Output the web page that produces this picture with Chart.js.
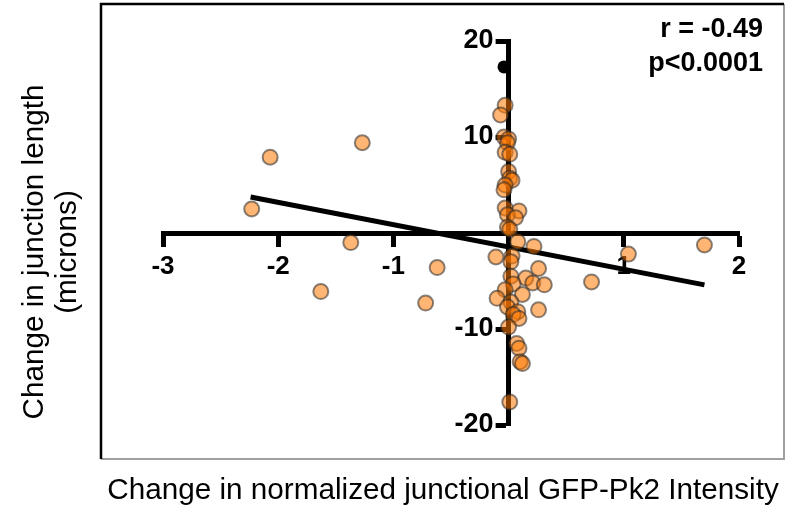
<!DOCTYPE html>
<html>
<head>
<meta charset="utf-8">
<script src="https://cdn.jsdelivr.net/npm/chart.js@4.4.1/dist/chart.umd.min.js"></script>
<style>
  html, body { margin: 0; padding: 0; background: #fff; }
  #wrap { width: 786px; height: 509px; }
</style>
</head>
<body>
<div id="wrap"><canvas id="myChart" width="786" height="509"></canvas></div>
<script>
// scatter values (x = change in GFP-Pk2, y = change in length)
const pointsX = [
  -2.07, -1.27, -2.23, -1.37, -0.62, -1.63, -0.72, 1.04, 1.70, 0.72,
  -0.03, -0.07, -0.04, 0.00, -0.01, -0.03, 0.01, 0.00, 0.01, 0.03,
  -0.03, -0.04, -0.03, 0.09, -0.01, 0.06, -0.01, 0.01, 0.08, 0.22,
  -0.11, 0.03, 0.02, 0.26, 0.02, 0.15, 0.21, 0.31, 0.04, -0.03,
  -0.10, 0.12, 0.02, -0.01, 0.08, 0.26, 0.04, 0.09, 0.00, 0.07,
  0.09, 0.10, 0.12, 0.01
];
const pointsY = [
  7.9, 9.4, 2.5, -1.0, -3.6, -6.1, -7.3, -2.2, -1.25, -5.1,
  13.3, 12.3, 10.0, 9.8, 9.4, 8.4, 8.2, 6.4, 5.7, 5.5,
  5.0, 4.5, 2.6, 2.3, 1.9, 1.6, 0.6, 0.4, -0.9, -1.4,
  -2.5, -2.4, -3.0, -3.7, -4.5, -4.7, -5.2, -5.4, -5.3, -5.9,
  -6.8, -6.4, -7.2, -7.7, -8.2, -8.0, -8.5, -8.9, -9.8, -11.5,
  -12.0, -13.4, -13.6, -17.6
];
// the lone black marker near the top of the y axis
const outlierX = [-0.04];
const outlierY = [17.3];
// linear fit end points
const fitX = [-2.24, 1.70];
const fitY = [3.75, -5.4];

const xTicks = [-3, -2, -1, 1, 2];
const yTicks = [-20, -10, 10, 20];
const statsText = ['r = -0.49', 'p<0.0001'];
const xTitle = 'Change in normalized junctional GFP-Pk2 Intensity';
const yTitle = ['Change in junction length', '(microns)'];

const toXY = (xs, ys) => xs.map((x, i) => ({ x: x, y: ys[i] }));

function fitFontSize(ctx, text, weight, family, width) {
  ctx.font = weight + ' 100px ' + family;
  return 100 * width / ctx.measureText(text).width;
}

// move the y axis so it crosses the x axis at x = 0
const crossAxes = {
  id: 'crossAxes',
  afterLayout(chart) {
    const px = chart.scales.x.getPixelForValue(0);
    chart.scales.y.left = px - 90;
    chart.scales.y.right = px;
  }
};

const frameAndText = {
  id: 'frameAndText',
  beforeDraw(chart) {
    const ctx = chart.ctx;
    ctx.save();
    ctx.fillStyle = '#fff';
    ctx.fillRect(0, 0, chart.width, chart.height);
    ctx.strokeStyle = '#a0a0a0';
    ctx.lineWidth = 2;
    ctx.beginPath();
    ctx.moveTo(101, 459);
    ctx.lineTo(784, 459);
    ctx.lineTo(784, 4);
    ctx.stroke();
    ctx.strokeStyle = '#000';
    ctx.lineWidth = 2.5;
    ctx.beginPath();
    ctx.moveTo(101, 459);
    ctx.lineTo(101, 4);
    ctx.lineTo(784, 4);
    ctx.stroke();
    ctx.restore();
  },
  afterDraw(chart) {
    const ctx = chart.ctx;
    const fam = '"Liberation Sans", Arial, sans-serif';
    ctx.save();
    ctx.fillStyle = '#000';

    // x title
    let size = fitFontSize(ctx, xTitle, 'normal', fam, 672);
    ctx.font = 'normal ' + size + 'px ' + fam;
    ctx.textAlign = 'center';
    ctx.textBaseline = 'alphabetic';
    ctx.fillText(xTitle, 443, 499);

    // y title, two lines rotated
    size = fitFontSize(ctx, yTitle[0], 'normal', fam, 335);
    ctx.font = 'normal ' + size + 'px ' + fam;
    ctx.save();
    ctx.translate(0, 252);
    ctx.rotate(-Math.PI / 2);
    ctx.fillText(yTitle[0], 0, 43);
    ctx.fillText(yTitle[1], 0, 76);
    ctx.restore();

    // stats
    ctx.font = 'bold 27px ' + fam;
    ctx.textAlign = 'right';
    ctx.fillText(statsText[0], 763, 37);
    ctx.fillText(statsText[1], 763, 71);
    ctx.restore();
  }
};

const tickFont = { family: '"Liberation Sans", Arial, sans-serif', weight: 'bold' };

new Chart(document.getElementById('myChart').getContext('2d'), {
  type: 'scatter',
  data: {
    datasets: [
      {
        type: 'line',
        data: toXY(fitX, fitY),
        borderColor: '#000',
        borderWidth: 5,
        pointRadius: 0,
        fill: false,
        clip: false,
        order: 3
      },
      {
        data: toXY(pointsX, pointsY),
        backgroundColor: 'rgba(255, 120, 0, 0.55)',
        borderColor: 'rgba(40, 40, 40, 0.55)',
        borderWidth: 2,
        pointRadius: 7.5,
        clip: false,
        order: 2
      },
      {
        data: toXY(outlierX, outlierY),
        backgroundColor: '#000',
        borderColor: '#000',
        borderWidth: 0,
        pointRadius: 6.5,
        clip: false,
        order: 1
      }
    ]
  },
  options: {
    responsive: false,
    animation: false,
    events: [],
    layout: { padding: { left: 163, right: 47, top: 41, bottom: 84 } },
    plugins: { legend: { display: false }, tooltip: { enabled: false } },
    scales: {
      x: {
        type: 'linear',
        position: { y: 0 },
        min: -3,
        max: 2,
        afterFit: s => { s.height = 0; },
        afterBuildTicks: s => { s.ticks = xTicks.map(v => ({ value: v })); },
        border: { display: true, color: '#000', width: 5 },
        grid: { drawOnChartArea: false, drawTicks: true, tickLength: 11, tickWidth: 5, tickColor: '#000' },
        ticks: { color: '#000', padding: 7, font: Object.assign({ size: 26 }, tickFont), maxRotation: 0 }
      },
      y: {
        type: 'linear',
        position: 'left',
        min: -20,
        max: 20,
        afterFit: s => { s.width = 0; },
        afterBuildTicks: s => { s.ticks = yTicks.map(v => ({ value: v })); },
        border: { display: true, color: '#000', width: 5 },
        grid: { drawOnChartArea: false, drawTicks: true, tickLength: 13, tickWidth: 5, tickColor: '#000' },
        ticks: { color: '#000', padding: 2, font: Object.assign({ size: 27 }, tickFont) }
      }
    }
  },
  plugins: [crossAxes, frameAndText]
});
</script>
</body>
</html>
